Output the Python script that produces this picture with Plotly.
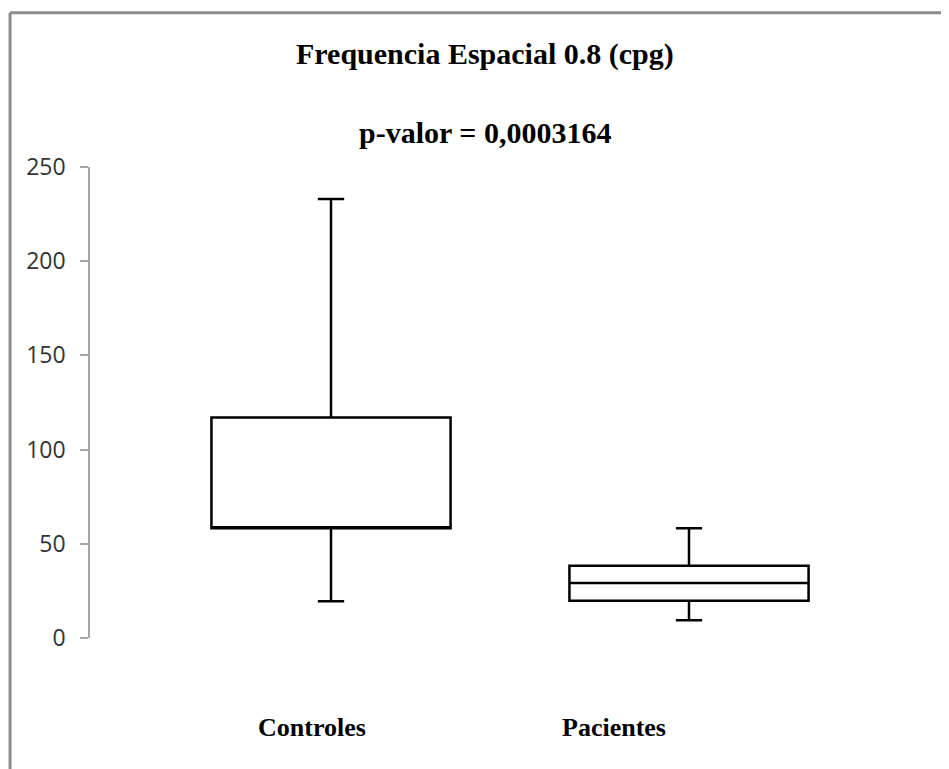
"""Box plot of spatial frequency 0.8 cpg, controls vs patients."""

import plotly.graph_objects as go

categories = ['Controles', 'Pacientes']
lower_whisker = [19.5, 9.4]
q1_values = [58.2, 19.8]
median_values = [58.2, 29.2]
q3_values = [117.0, 38.4]
upper_whisker = [233.0, 58.2]
y_ticks = [0, 50, 100, 150, 200, 250]

title_text = 'Frequencia Espacial 0.8 (cpg)'
pvalue_text = 'p-valor = 0,0003164'

# the page body adds 8px, so margins are 8px smaller than the target offsets
fig = go.Figure()

for index, name in enumerate(categories):
  fig.add_trace(
      go.Box(
          x=[index],
          q1=[q1_values[index]],
          median=[median_values[index]],
          q3=[q3_values[index]],
          lowerfence=[lower_whisker[index]],
          upperfence=[upper_whisker[index]],
          name=name,
          width=0.668,
          whiskerwidth=0.11,
          fillcolor='white',
          line=dict(color='black', width=2.5),
          showlegend=False,
          hoverinfo='skip'))

# category labels sit a bit left of the boxes, as in the original
label_offsets = [-0.053, -0.21]
for index, name in enumerate(categories):
  fig.add_annotation(
      x=index + label_offsets[index], y=-0.189, xref='x', yref='paper',
      xanchor='center', yanchor='middle',
      text=f'<b>{name}</b>', showarrow=False,
      font=dict(family='Liberation Serif', size=26, color='black'))

fig.add_annotation(
    x=0.470, y=1.240, xref='paper', yref='paper', xanchor='center',
    yanchor='middle', text=f'<b>{title_text}</b>', showarrow=False,
    font=dict(family='Liberation Serif', size=30, color='black'))
fig.add_annotation(
    x=0.470, y=1.074, xref='paper', yref='paper', xanchor='center',
    yanchor='middle', text=f'<b>{pvalue_text}</b>', showarrow=False,
    font=dict(family='Liberation Serif', size=30, color='black'))

# grey frame around the chart (top and left edges only visible)
fig.add_shape(type='line', xref='paper', yref='paper', x0=-0.0952, x1=1.05,
              y0=1.3275, y1=1.3275, line=dict(color='#8c8c8c', width=3))
fig.add_shape(type='line', xref='paper', yref='paper', x0=-0.0952, x1=-0.0952,
              y0=1.3275, y1=-0.35, line=dict(color='#8c8c8c', width=3))

fig.update_xaxes(
    range=[-0.6732, 1.6732], showticklabels=False, showline=False,
    showgrid=False, zeroline=False, ticks='')
fig.update_yaxes(
    range=[0, 250], tickvals=y_ticks, showgrid=False, zeroline=False,
    showline=True, linecolor='#a6a6a6', linewidth=1.5,
    ticks='outside', ticklen=8, tickcolor='#a6a6a6', tickwidth=1.5,
    ticklabelstandoff=10,
    tickfont=dict(family='Open Sans', size=23, color='#333333'))

fig.update_layout(
    width=949, height=769,
    margin=dict(l=82, r=27, t=159, b=139),
    paper_bgcolor='white', plot_bgcolor='white')

fig.write_html('out.html')
